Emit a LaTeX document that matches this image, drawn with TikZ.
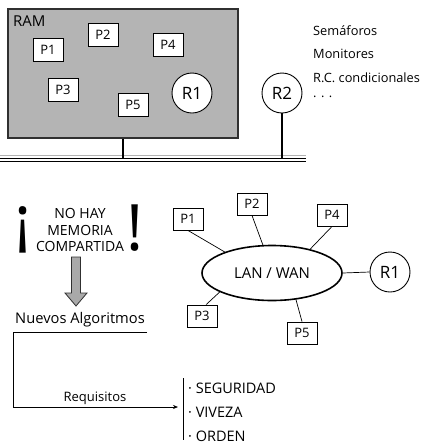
\documentclass[tikz,border=0pt]{standalone}
\usepackage{fontspec}
\setmainfont{Open Sans}
\usetikzlibrary{arrows.meta,shapes.geometric}
\definecolor{ramgray}{HTML}{B4B4B4}
\definecolor{arrgray}{HTML}{A9A9A9}
\definecolor{edge}{HTML}{303030}
\begin{document}
\begin{tikzpicture}[x=1pt,y=-1pt,
  pbox/.style={draw=black, fill=white, line width=0.9pt, minimum width=30pt, minimum height=23pt, inner sep=0pt, font=\fontsize{13}{15}\selectfont},
  res/.style={circle, draw=black, fill=white, line width=0.9pt, minimum size=40pt, inner sep=0pt, font=\fontsize{17}{19}\selectfont},
  wire/.style={line width=2pt, black},
  link/.style={line width=0.7pt, black},
  lbl/.style={inner sep=0pt, font=\fontsize{12.8}{15}\selectfont},
  item/.style={inner sep=0pt, anchor=west, font=\fontsize{14.5}{16}\selectfont},
  bang/.style={inner sep=0pt, font=\fontsize{64}{64}\selectfont}]
\useasboundingbox (0,0) rectangle (425,448);
% ---- shared memory part
\node[draw=edge, fill=ramgray, line width=1.2pt, minimum width=230pt, minimum height=129pt, inner sep=0pt] (ram) at (123,73.5) {};
\node[lbl, anchor=west, font=\fontsize{15}{17}\selectfont] (ramt) at (13,21) {RAM};
\node[pbox] (a1) at (48,50) {P1};
\node[pbox] (a2) at (103,35) {P2};
\node[pbox] (a4) at (168,45) {P4};
\node[pbox] (a3) at (63,90) {P3};
\node[pbox] (a5) at (133,105) {P5};
\node[res] (r1a) at (192,93) {R1};
\node[res] (r2a) at (282,93) {R2};
\coordinate (busl) at (0,158);
\coordinate (busr) at (306,158);
\draw[gray!60, line width=1.2pt] (0,155.5) -- (306,155.5);
\draw[black, line width=1pt] (0,158) -- (306,158);
\draw[black, line width=1pt] (0,161) -- (306,161);
\draw[wire] (ram.south) -- (ram.south |- busl);
\draw[wire] (r2a.south) -- (r2a.south |- busl);
\node[lbl, anchor=west] (s1) at (313,31) {Semáforos};
\node[lbl, anchor=west] (s2) at (313,54) {Monitores};
\node[lbl, anchor=west] (s3) at (313,78) {R.C. condicionales};
\node[lbl, anchor=west] (s4) at (313,97) {. . .};
% ---- distributed part
\node[bang] (bl) at (23,230) {¡};
\node[bang] (br) at (135,228) {!};
\node[inner sep=0pt, align=center, font=\fontsize{14}{16.5}\selectfont] (nomem) at (80,230) {NO HAY\\MEMORIA\\COMPARTIDA};
\draw[draw=edge, fill=arrgray, line width=0.8pt] (71.5,257) -- (80.5,257) -- (80.5,293) -- (87,293) -- (76,306) -- (65,293) -- (71.5,293) -- cycle;
\node[inner sep=0pt, font=\fontsize{14.7}{17}\selectfont] (na) at (80,320) {Nuevos Algoritmos};
\coordinate (ul) at (13,332);
\coordinate (ur) at (147,332);
\coordinate (dl) at (13,407);
\coordinate (ar) at (178,407);
\draw[link, -{Stealth[length=5pt,width=4pt]}] (ur) -- (ul) -- (dl) -- (ar);
\node[lbl, font=\fontsize{13}{15}\selectfont] (req) at (95,398) {Requisitos};
\coordinate (bt) at (183,378);
\coordinate (bb) at (183,440);
\draw[link] (bt) -- (bb);
\node[item] (i1) at (188,388) {· SEGURIDAD};
\node[item] (i2) at (188,412) {· VIVEZA};
\node[item] (i3) at (188,436) {· ORDEN};
% ---- network
\node[ellipse, draw=black, line width=1.6pt, minimum width=140pt, minimum height=55pt, inner sep=0pt, font=\fontsize{15}{17}\selectfont] (lan) at (272,273) {LAN / WAN};
\node[pbox, minimum height=22pt] (b1) at (188,219) {P1};
\node[pbox, minimum height=22pt] (b2) at (252,204) {P2};
\node[pbox, minimum height=22pt] (b4) at (332,215) {P4};
\node[pbox, minimum height=22pt] (b3) at (202,316) {P3};
\node[pbox, minimum height=22pt] (b5) at (302,333) {P5};
\node[res] (r1b) at (390,272) {R1};
\draw[link] (b1.south) -- (lan.156);
\draw[link] (b2.south) -- (lan.108);
\draw[link] (b4.south) -- (lan.32);
\draw[link] (lan.200) -- (b3.70);
\draw[link] (lan.312) -- (b5.north);
\draw[link] (lan.east) -- (r1b.west);
\end{tikzpicture}
\end{document}
